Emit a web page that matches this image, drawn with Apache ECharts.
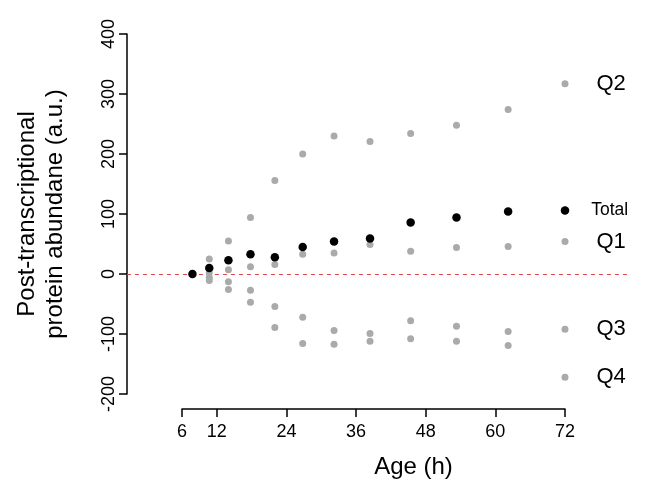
<!DOCTYPE html>
<html><head><meta charset="utf-8">
<script src="https://cdn.jsdelivr.net/npm/echarts@6/dist/echarts.min.js"></script>
<style>html,body{margin:0;padding:0;background:#fff}#c{width:647px;height:494px}</style>
</head><body><div id="c"></div>
<script>
// Data
const ages  = [7.8, 10.7, 14.0, 17.8, 22.0, 26.8, 32.2, 38.4, 45.4, 53.3, 62.2, 72];
const total = [0, 10, 23, 33, 28, 45, 54, 59, 86, 94, 104, 106];
const q1    = [0, 2, 7, 12, 16, 33, 35, 49, 38, 44, 46, 54];
const q2    = [0, 25, 55, 94, 156, 200, 230, 221, 234, 248, 274, 317];
const q3    = [0, -6, -13, -27, -54, -72, -94, -99, -78, -87, -96, -92];
const q4    = [0, -11, -26, -47, -89, -116, -117, -112, -108, -112, -119, -172];
const xTicks = [6, 12, 24, 36, 48, 60, 72];
const yRange = [-200, 400];
const refLineX = [-3.5, 82.7];
const refLineY = 0;

const FONT = 'Liberation Sans, Arial, sans-serif';
function build(vals, name, isTotal) {
  return ages.map((a, i) => {
    const item = { value: [a, vals[i]] };
    if (i === ages.length - 1) {
      item.label = {
        show: true, position: 'right', distance: isTotal ? 22 : 28,
        formatter: name, color: '#000', fontFamily: FONT,
        fontSize: isTotal ? 17.5 : 22
      };
    }
    return item;
  });
}
const grey = '#aaaaaa';
const chart = echarts.init(document.getElementById('c'), null, { renderer: 'canvas' });
chart.setOption({
  animation: false,
  backgroundColor: '#fff',
  grid: { left: 182, right: 82, top: 34, bottom: 100 },
  xAxis: {
    type: 'value', min: xTicks[0], max: xTicks[xTicks.length - 1], offset: 15,
    name: 'Age (h)', nameLocation: 'middle', nameGap: 46,
    nameTextStyle: { fontFamily: FONT, fontSize: 24, color: '#000', padding: [0, 0, 0, 80] },
    axisLine: { show: true, onZero: false, lineStyle: { color: '#000', width: 1.5 } },
    axisTick: { show: true, length: 8, customValues: xTicks, lineStyle: { color: '#000', width: 1.5 } },
    axisLabel: { customValues: xTicks, margin: 14, fontFamily: FONT, fontSize: 18, color: '#000' },
    splitLine: { show: false }
  },
  yAxis: {
    type: 'value', min: yRange[0], max: yRange[1], interval: 100, offset: 55,
    name: 'Post-transcriptional\nprotein abundane (a.u.)', nameLocation: 'middle', nameGap: 58,
    nameTextStyle: { fontFamily: FONT, fontSize: 24, color: '#000', lineHeight: 28 },
    axisLine: { show: true, onZero: false, lineStyle: { color: '#000', width: 1.5 } },
    axisTick: { show: true, length: 8, lineStyle: { color: '#000', width: 1.5 } },
    axisLabel: { rotate: 90, margin: 9, fontFamily: FONT, fontSize: 18, color: '#000' },
    splitLine: { show: false }
  },
  series: [
    { name: 'Q1', type: 'scatter', data: build(q1, 'Q1'), symbolSize: 7, itemStyle: { color: grey, opacity: 1 }, z: 2 },
    { name: 'Q2', type: 'scatter', data: build(q2, 'Q2'), symbolSize: 7, itemStyle: { color: grey, opacity: 1 }, z: 2 },
    { name: 'Q3', type: 'scatter', data: build(q3, 'Q3'), symbolSize: 7, itemStyle: { color: grey, opacity: 1 }, z: 2 },
    { name: 'Q4', type: 'scatter', data: build(q4, 'Q4'), symbolSize: 7, itemStyle: { color: grey, opacity: 1 }, z: 2 },
    { name: 'Total', type: 'scatter', data: build(total, 'Total', true), symbolSize: 8.5, itemStyle: { color: '#000', opacity: 1 }, z: 3 }
  ]
});
// Reference line at y = 0, positioned through the chart's own scales
const p0 = chart.convertToPixel({ gridIndex: 0 }, [refLineX[0], refLineY]);
const p1 = chart.convertToPixel({ gridIndex: 0 }, [refLineX[1], refLineY]);
chart.setOption({
  graphic: [{
    type: 'line', silent: true, z: 1,
    shape: { x1: p0[0], y1: Math.round(p0[1]) + 0.5, x2: p1[0], y2: Math.round(p1[1]) + 0.5 },
    style: { stroke: '#e0454a', lineWidth: 1.2, lineDash: [4, 4] }
  }]
});
</script>
</body></html>
